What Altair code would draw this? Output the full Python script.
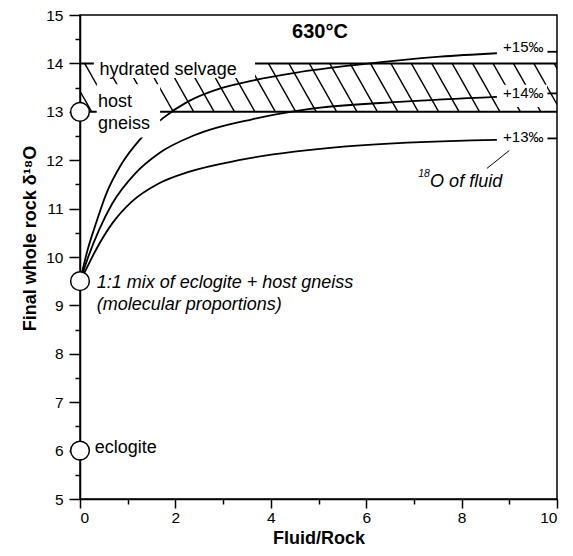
import altair as alt
import pandas as pd
import numpy as np

FONT = "Liberation Sans"

# ---- data ----
x15 = [0, 0.16, 0.33, 0.54, 0.87, 1.25, 1.74, 2.26, 2.96, 3.59, 4.54, 5.80, 7.55, 8.74]
y15 = [9.5, 10.15, 10.68, 11.28, 11.92, 12.42, 12.87, 13.21, 13.49, 13.64, 13.81, 13.97, 14.14, 14.21]
x14 = [0, 0.19, 0.40, 0.68, 1.16, 1.65, 2.41, 3.63, 4.75, 6.78, 8.74]
y14 = [9.5, 10.05, 10.56, 11.11, 11.73, 12.14, 12.52, 12.85, 13.05, 13.21, 13.31]
x13 = [0, 0.12, 0.33, 0.68, 1.08, 1.65, 2.28, 3.33, 5.52, 8.74]
y13 = [9.5, 9.73, 10.14, 10.70, 11.14, 11.52, 11.76, 12.0, 12.28, 12.42]

end_x = [9.8, 10.0]
end_y = [14.24, 13.38, 12.45]

circle_y = [13, 9.5, 6]

band_low, band_high = 13, 14
hatch_anchor, hatch_step, hatch_run = 3.95, 0.428, 0.575

# label boxes (white masks behind labels)
mask_x = [0.29, 0.35, 8.76]
mask_x2 = [3.67, 1.68, 9.79]
mask_y = [13.70, 12.47, 13.10]
mask_y2 = [14.12, 13.57, 13.56]

leader = {"x": [8.53], "x2": [9.0], "y": [11.83], "y2": [12.2]}

# ---- tables ----
curves = pd.concat([
    pd.DataFrame({"x": x15, "y": y15, "s": "15", "o": range(len(x15))}),
    pd.DataFrame({"x": x14, "y": y14, "s": "14", "o": range(len(x14))}),
    pd.DataFrame({"x": x13, "y": y13, "s": "13", "o": range(len(x13))}),
])
ends = pd.DataFrame({"x": end_x[0], "x2": end_x[1], "y": end_y})
circles = pd.DataFrame({"x": 0, "y": circle_y})
k = np.arange(-12, 16)
tops = hatch_anchor + hatch_step * k
hatch = pd.DataFrame({"x": tops, "x2": tops + hatch_run, "y": band_high, "y2": band_low})
band = pd.DataFrame({"x": 0, "x2": 10, "y": [band_low, band_high]})
masks = pd.DataFrame({"x": mask_x, "x2": mask_x2, "y": mask_y, "y2": mask_y2})
lead = pd.DataFrame(leader)

normal = pd.DataFrame({
    "t": ["hydrated selvage", "host", "gneiss", "eclogite"],
    "x": [0.41, 0.377, 0.377, 0.31],
    "y": [13.77, 13.105, 12.645, 5.96],
})
italic = pd.DataFrame({
    "t": ["1:1 mix of eclogite + host gneiss", "(molecular proportions)", "O of fluid"],
    "x": [0.35, 0.35, 7.34],
    "y": [9.353, 8.905, 11.45],
})
sup = pd.DataFrame({"t": ["18"], "x": [7.09], "y": [11.66]})
perm = pd.DataFrame({"t": ["+15‰", "+14‰", "+13‰"], "x": [8.87] * 3, "y": [14.24, 13.28, 12.37]})
temp = pd.DataFrame({"t": ["630°C"], "x": [5.03], "y": [14.53]})

# ---- scales / axes ----
xs = alt.Scale(domain=[0, 10], nice=False, zero=False)
ys = alt.Scale(domain=[5, 15], nice=False, zero=False)
xaxis = alt.Axis(
    values=list(range(0, 11)),
    labelExpr="datum.value % 2 == 0 ? format(datum.value, 'd') : ''",
    tickSize={"condition": {"test": "datum.value % 2 == 0", "value": 9}, "value": 5},
    labelPadding=2, labelFontSize=15.5, title="Fluid/Rock", titleFontSize=18, titleFontWeight="bold",
    titleBaseline="alphabetic", titleY=44, grid=False,
)
yaxis = alt.Axis(
    values=[5 + 0.5 * i for i in range(21)],
    labelExpr="datum.value % 1 == 0 ? format(datum.value, 'd') : ''",
    tickSize={"condition": {"test": "datum.value % 1 == 0", "value": 11}, "value": 5},
    labelPadding=6, labelFontSize=15.5, title="Final whole rock δ¹⁸O", titleFontSize=18,
    titleFontWeight="bold", titleBaseline="alphabetic", titleX=-45, titleY=223, grid=False,
)


def X(f="x"):
    return alt.X(f, type="quantitative", scale=xs, axis=xaxis)


def Y(f="y"):
    return alt.Y(f, type="quantitative", scale=ys, axis=yaxis)


hatch_l = alt.Chart(hatch).mark_rule(color="black", strokeWidth=1.4, clip=True).encode(
    x=X(), x2="x2", y=Y(), y2="y2")
band_l = alt.Chart(band).mark_rule(color="black", strokeWidth=2).encode(x=X(), x2="x2", y=Y())
curve_l = alt.Chart(curves).mark_line(color="black", strokeWidth=1.8, interpolate="monotone").encode(
    x=X(), y=Y(), detail="s:N", order="o:Q")
mask_l = alt.Chart(masks).mark_rect(color="white").encode(x=X(), x2="x2", y=Y(), y2="y2")
end_l = alt.Chart(ends).mark_rule(color="black", strokeWidth=1.8).encode(x=X(), x2="x2", y=Y())
lead_l = alt.Chart(lead).mark_rule(color="black", strokeWidth=1).encode(x=X(), x2="x2", y=Y(), y2="y2")
circ_l = alt.Chart(circles).mark_point(shape="circle", size=350, filled=True, fill="white",
                                        stroke="black", strokeWidth=1.5, opacity=1).encode(x=X(), y=Y())


def txt(df, size, style="normal", weight="normal", align="left"):
    return alt.Chart(df).mark_text(font=FONT, fontSize=size, fontStyle=style, fontWeight=weight,
                                   align=align, baseline="alphabetic", color="black").encode(
        x=X(), y=Y(), text="t:N")


chart = alt.layer(
    hatch_l, band_l, curve_l, mask_l, end_l, lead_l, circ_l,
    txt(normal, 18), txt(italic, 18, style="italic"), txt(sup, 10.5, style="italic"),
    txt(perm, 15), txt(temp, 20, weight="bold", align="center"),
).properties(
    width=477, height=484,
    autosize=alt.AutoSizeParams(type="none"),
    padding={"left": 72, "top": 7, "right": 8, "bottom": 50},
).configure_view(stroke="black", strokeWidth=1.5).configure_axis(
    domainColor="black", domainWidth=1.5, tickColor="black", tickWidth=1.5,
    labelColor="black", titleColor="black", labelFont=FONT, titleFont=FONT,
)

chart.save("out.html", embed_options={"renderer": "svg", "actions": False})
